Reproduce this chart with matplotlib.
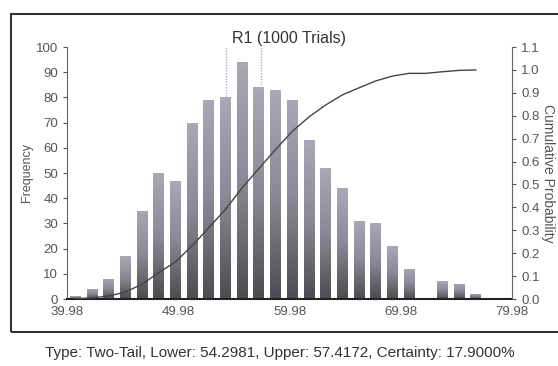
import numpy as np
import matplotlib
matplotlib.use("Agg")
import matplotlib.pyplot as plt
from matplotlib.patches import Rectangle

plt.rcParams["font.family"] = ["Liberation Sans", "DejaVu Sans"]

# forecast histogram: bins of width 1.5 starting at 39.98
bin_start = 39.98
bin_width = 1.5
frequency = [1, 4, 8, 17, 35, 50, 47, 70, 79, 80, 94, 84, 83,
             79, 63, 52, 44, 31, 30, 21, 12, 0, 7, 6, 2]
x_ticks = [39.98, 49.98, 59.98, 69.98, 79.98]
lower, upper, certainty = 54.2981, 57.4172, 17.9
trials = 1000

centers = bin_start + bin_width * (np.arange(len(frequency)) + 0.5)
cum_prob = np.cumsum(frequency) / sum(frequency)

fig = plt.figure(figsize=(5.58, 3.66), dpi=100)
ax = fig.add_axes([67 / 558, 67 / 366, 445 / 558, 252 / 366])

grey_txt = "#555555"

# bars with a light-to-dark vertical shading
grad = np.linspace(1, 0, 64).reshape(-1, 1)
cmap = matplotlib.colors.LinearSegmentedColormap.from_list(
    "bar", ["#4c4c54", "#8a8a96", "#a8a8b6"])
bw = 0.98
for c, h in zip(centers, frequency):
    if h <= 0:
        continue
    rect = Rectangle((c - bw / 2, 0), bw, h, facecolor="none", edgecolor="none")
    ax.add_patch(rect)
    im = ax.imshow(grad, extent=(c - bw / 2, c + bw / 2, 0, h), cmap=cmap,
                   aspect="auto", origin="upper", zorder=2)
    im.set_clip_path(rect)

# certainty range markers
for v in (lower, upper):
    ax.axvline(v, ymin=0, ymax=1, color="#aab4c8", lw=1.0, ls=(0, (1, 1)), zorder=1)

ax.set_xlim(bin_start, 79.98)
ax.set_ylim(0, 100)
ax.set_xticks(x_ticks)
ax.set_xticklabels([f"{t:.2f}" for t in x_ticks])
ax.set_yticks(range(0, 101, 10))
ax.tick_params(axis="both", labelsize=9.5, colors=grey_txt, length=3, width=0.8)
ax.tick_params(axis="x", length=0, pad=5)
for s in ("top", "right"):
    ax.spines[s].set_visible(False)
ax.spines["left"].set_color("#666666")
ax.spines["bottom"].set_color("#222222")
ax.spines["bottom"].set_linewidth(1.5)
ax.set_ylabel("Frequency", fontsize=9, color=grey_txt, labelpad=2)

# cumulative probability on the right axis
ax2 = ax.twinx()
ax2.plot(centers, cum_prob, color="#444444", lw=1.0, zorder=3)
ax2.set_ylim(0, 1.1)
ax2.set_yticks(np.round(np.arange(0, 1.11, 0.1), 1))
ax2.set_yticklabels([f"{t:.1f}" for t in np.arange(0, 1.11, 0.1)])
ax2.tick_params(axis="y", labelsize=9.5, colors=grey_txt, length=3, width=0.8)
for s in ("top", "left", "bottom"):
    ax2.spines[s].set_visible(False)
ax2.spines["right"].set_color("#666666")
ax2.set_ylabel("Cumulative Probability", fontsize=10, color=grey_txt,
               rotation=270, labelpad=11)

ax.set_title(f"R1 ({trials} Trials)", fontsize=11.5, color="#333333", pad=3)

# outer frame
fig.patches.append(Rectangle((11 / 558, 1 - 332 / 366), 560 / 558, 318 / 366,
                             transform=fig.transFigure, fill=False,
                             edgecolor="#333333", lw=1.5, clip_on=False))

fig.text(280 / 558, 1 - 353 / 366,
         f"Type: Two-Tail, Lower: {lower:.4f}, Upper: {upper:.4f}, "
         f"Certainty: {certainty:.4f}%",
         ha="center", va="center", fontsize=11, color="#333333")

fig.savefig("out.png", dpi=100)
